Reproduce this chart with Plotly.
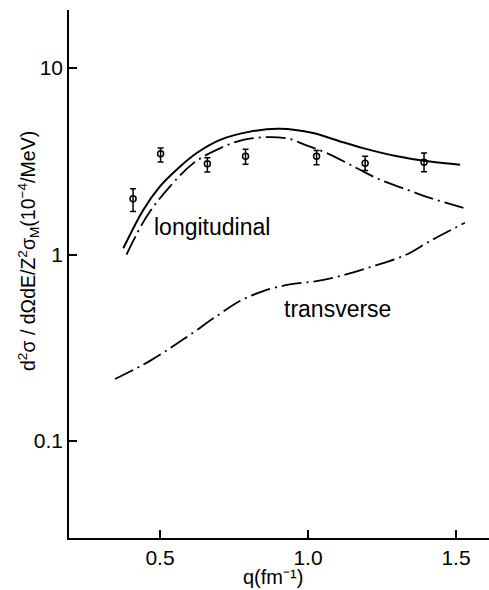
import numpy as np
import plotly.graph_objects as go

# Measured points with asymmetric error bars
q_data = [0.409, 0.502, 0.660, 0.789, 1.029, 1.193, 1.392]
y_data = [1.99, 3.47, 3.07, 3.36, 3.36, 3.09, 3.12]
y_hi = [2.25, 3.72, 3.30, 3.67, 3.61, 3.36, 3.50]
y_lo = [1.70, 3.13, 2.77, 3.05, 3.03, 2.82, 2.78]

# Total (longitudinal + transverse) calculation
q_total = [0.376, 0.444, 0.500, 0.556, 0.624, 0.703, 0.804, 0.905, 1.017,
           1.108, 1.186, 1.301, 1.412, 1.514]
y_total = [1.08, 1.74, 2.32, 2.85, 3.50, 4.12, 4.56, 4.72, 4.48,
           4.04, 3.72, 3.36, 3.15, 3.03]

# Longitudinal part
q_long = [0.387, 0.455, 0.534, 0.613, 0.691, 0.781, 0.872, 0.939, 0.990,
          1.063, 1.164, 1.243, 1.333, 1.412, 1.525]
y_long = [1.00, 1.60, 2.32, 3.09, 3.64, 4.12, 4.26, 4.16, 3.87,
          3.50, 2.91, 2.52, 2.23, 2.01, 1.78]

# Transverse part
q_trans = [0.348, 0.466, 0.579, 0.692, 0.770, 0.849, 0.939, 1.029, 1.108,
           1.220, 1.333, 1.412, 1.530]
y_trans = [0.215, 0.269, 0.351, 0.468, 0.563, 0.637, 0.691, 0.720, 0.766,
           0.866, 1.00, 1.18, 1.48]

x_ticks = [0.5, 1.0, 1.5]
x_ticklabels = ["0.5", "1.0", "1.5"]
y_ticks = [0.1, 1, 10]
y_ticklabels = ["0.1", "1", "10"]

FONT = "Liberation Sans"
dashdot = "20px,5px,2px,5px"

fig = go.Figure()

fig.add_trace(go.Scatter(
    x=q_total, y=y_total, mode="lines", line_shape="spline",
    line=dict(color="black", width=2, smoothing=1.0), showlegend=False, hoverinfo="skip"))
fig.add_trace(go.Scatter(
    x=q_long, y=y_long, mode="lines", line_shape="spline",
    line=dict(color="black", width=1.8, dash=dashdot, smoothing=1.0),
    showlegend=False, hoverinfo="skip"))
fig.add_trace(go.Scatter(
    x=q_trans, y=y_trans, mode="lines", line_shape="spline",
    line=dict(color="black", width=1.8, dash=dashdot, smoothing=1.0),
    showlegend=False, hoverinfo="skip"))

err_plus = [h - v for h, v in zip(y_hi, y_data)]
err_minus = [v - l for v, l in zip(y_data, y_lo)]
fig.add_trace(go.Scatter(
    x=q_data, y=y_data, mode="markers",
    marker=dict(symbol="circle-open", size=6, color="black", line=dict(width=1.5)),
    error_y=dict(type="data", symmetric=False, array=err_plus, arrayminus=err_minus,
                 color="black", thickness=1.5, width=3),
    showlegend=False))

L, T, B = 69, 10, 52
W, H = 489, 590
pw, ph = W - L, H - T - B

def px_to_paper(px, py):
    return (px - L) / pw, (H - B - py) / ph

annotations = []
ax, ay = px_to_paper(28, 251)
annotations.append(dict(
    x=ax, y=ay, xref="paper", yref="paper", showarrow=False, textangle=-90,
    xanchor="center", yanchor="middle",
    text="d<sup>2</sup>σ / dΩdE/Z<sup>2</sup>σ<sub>M</sub>(10<sup>−4</sup>/MeV)",
    font=dict(family=FONT, size=19.5, color="black")))
bx, by = px_to_paper(273, 577)
annotations.append(dict(
    x=bx, y=by, xref="paper", yref="paper", showarrow=False,
    xanchor="center", yanchor="middle",
    text="q(fm⁻¹)", font=dict(family=FONT, size=20, color="black")))
annotations.append(dict(
    x=0.676, y=np.log10(1.41), xref="x", yref="y", showarrow=False,
    xanchor="center", yanchor="middle",
    text="longitudinal", font=dict(family=FONT, size=23, color="black")))
annotations.append(dict(
    x=1.098, y=np.log10(0.508), xref="x", yref="y", showarrow=False,
    xanchor="center", yanchor="middle",
    text="transverse", font=dict(family=FONT, size=23, color="black")))

axis_common = dict(
    ticks="inside", ticklen=8, tickwidth=1.5, tickcolor="black",
    showline=True, linecolor="black", linewidth=1.5,
    showgrid=False, zeroline=False,
    tickfont=dict(family=FONT, size=21, color="black"),
)

fig.update_layout(
    width=W, height=H,
    margin=dict(l=L, r=0, t=T, b=B),
    paper_bgcolor="white", plot_bgcolor="white",
    font=dict(family=FONT, size=21, color="black"),
    annotations=annotations,
    xaxis=dict(range=[0.5 - (160 - L) / 296, 1.5 + (W - 456) / 296],
               tickvals=x_ticks, ticktext=x_ticklabels, ticklabelstandoff=0,
               **axis_common),
    yaxis=dict(type="log", range=[-1.52, 1.311],
               tickvals=y_ticks, ticktext=y_ticklabels, **axis_common),
)

fig.write_html("out.html")
